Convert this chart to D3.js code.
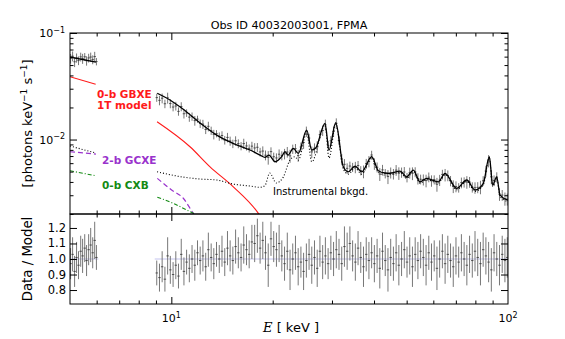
<!DOCTYPE html>
<meta charset="utf-8">
<body style="margin:0;background:#fff">
<svg width="565" height="339"></svg>
<script src="https://d3js.org/d3.v7.min.js"></script>
<script>

// ---- data ----
var titleText = "Obs ID 40032003001, FPMA";

// total model, low (5-6 keV) and high (9-100 keV) pieces
var modelLoE = [5.0, 5.45, 5.97];
var modelLoF = [0.0595, 0.0564, 0.0534];
var modelHiE = [9.08, 9.91, 10.85, 12.17, 13.64, 15.25, 17.13, 18.34, 18.97, 19.50, 20.32, 21.27, 21.76, 22.21, 23.03, 23.83, 25.24, 26.12, 26.84, 28.61, 29.40, 30.78, 32.42, 33.55, 35.13, 36.77, 39.37, 41.19, 43.12, 44.62, 47.78, 50.02, 52.33, 54.79, 57.36, 62.09, 65.01, 70.41, 75.41, 79.81, 84.47, 88.01, 90.08, 92.57, 94.68, 100];
var modelHiF = [0.0272, 0.0235, 0.0192, 0.0143, 0.0110, 0.00921, 0.00797, 0.00715, 0.00681, 0.00715, 0.00619, 0.00690, 0.00768, 0.00715, 0.00827, 0.00742, 0.01228, 0.00797, 0.00832, 0.01420, 0.00797, 0.01438, 0.00555, 0.00498, 0.00564, 0.00498, 0.00690, 0.00510, 0.00485, 0.00482, 0.00506, 0.00447, 0.00517, 0.00401, 0.00432, 0.00401, 0.00482, 0.00348, 0.00417, 0.00336, 0.00388, 0.00690, 0.00374, 0.00447, 0.00301, 0.00270];

// instrumental background
var bkgLoE = [5.0, 5.97];
var bkgLoF = [0.00869, 0.00747];
var bkgHiE = [9.07, 10.84, 12.17, 13.64, 15.25, 17.13, 18.34, 18.97, 19.6, 20.5, 21.5, 22.51, 23.30, 23.83, 25.24, 26.12, 28.61, 29.40, 30.78, 32.42, 33.55, 35.13, 36.77, 39.37, 41.19, 43.12, 44.62, 47.78, 50.02, 52.33, 54.79, 57.36, 62.09, 65.01, 70.41, 75.41, 79.81, 84.47, 88.01, 90.08, 92.57, 94.68, 100];
var bkgHiF = [0.00498, 0.00444, 0.00426, 0.00417, 0.00382, 0.00366, 0.00356, 0.00370, 0.00485, 0.00391, 0.00444, 0.00642, 0.00690, 0.00640, 0.01151, 0.00619, 0.01368, 0.00671, 0.01398, 0.00528, 0.00474, 0.00540, 0.00474, 0.00671, 0.00495, 0.00464, 0.00468, 0.00491, 0.00434, 0.00502, 0.00390, 0.00420, 0.00390, 0.00468, 0.00338, 0.00405, 0.00326, 0.00377, 0.00670, 0.00363, 0.00434, 0.00292, 0.00262];

// 0-b GBXE 1T model
var gbxLoE = [5.0, 5.96];
var gbxLoF = [0.0389, 0.0330];
var gbxHiE = [9.07, 11.36, 13.03, 15.28, 18.13, 18.6];
var gbxHiF = [0.01469, 0.00856, 0.00555, 0.00360, 0.00203, 0.0018];

// 2-b GCXE
var gcxLoE = [5.0, 5.97];
var gcxLoF = [0.00768, 0.00731];
var gcxHiE = [9.085, 10.02, 10.85, 11.62, 11.8];
var gcxHiF = [0.00432, 0.00336, 0.00281, 0.00203, 0.0019];

// 0-b CXB
var cxbLoE = [5.0, 5.97];
var cxbLoF = [0.00509, 0.00457];
var cxbHiE = [9.085, 10.13, 11.11, 11.75];
var cxbHiF = [0.00287, 0.00252, 0.00218, 0.0020];

// data bins: energy, data/model ratio, ratio error
var binLoE = [5.02, 5.09, 5.16, 5.23, 5.30, 5.38, 5.45, 5.53, 5.60, 5.68, 5.76, 5.84, 5.92, 5.99];
var ratioLo = [0.97, 1.03, 0.92, 1.01, 0.96, 1.05, 1.02, 1.07, 0.99, 1.06, 1.09, 1.04, 1.12, 1.01];
var errLo = [0.10, 0.11, 0.10, 0.10, 0.09, 0.10, 0.11, 0.09, 0.10, 0.10, 0.11, 0.10, 0.12, 0.08];

var binHiE = [9.05, 9.22, 9.39, 9.57, 9.75, 9.93, 10.12, 10.31, 10.50, 10.70, 10.90, 11.10, 11.31, 11.52, 11.74, 11.96, 12.18, 12.41, 12.65, 12.88,
  13.13, 13.37, 13.62, 13.88, 14.14, 14.41, 14.68, 14.95, 15.23, 15.52, 15.81, 16.11, 16.41, 16.72, 17.03, 17.35, 17.68, 18.01, 18.35, 18.69,
  19.04, 19.40, 19.77, 20.14, 20.52, 20.90, 21.29, 21.69, 22.10, 22.52, 22.94, 23.37, 23.81, 24.26, 24.71, 25.18, 25.65, 26.13, 26.62, 27.12,
  27.63, 28.15, 28.68, 29.22, 29.77, 30.33, 30.90, 31.48, 32.07, 32.67, 33.28, 33.91, 34.55, 35.20, 35.86, 36.53, 37.22, 37.92, 38.63, 39.35,
  40.09, 40.85, 41.61, 42.39, 43.19, 44.00, 44.83, 45.67, 46.53, 47.40, 48.29, 49.20, 50.12, 51.06, 52.02, 53.00, 54.00, 55.01, 56.04, 57.10,
  58.17, 59.26, 60.37, 61.51, 62.66, 63.84, 65.04, 66.26, 67.50, 68.77, 70.06, 71.37, 72.71, 74.08, 75.47, 76.89, 78.33, 79.80, 81.30, 82.83,
  84.38, 85.97, 87.58, 89.23, 90.90, 92.61, 94.35, 96.12, 97.92, 99.5];
var ratioHi = [0.91, 0.88, 0.95, 0.87, 1.02, 0.93, 0.90,
  0.96, 0.89, 1.03, 0.92, 0.98, 0.94,
  1.00, 0.96, 1.04, 0.99, 1.02, 0.95, 1.06, 1.01, 0.97, 1.03, 1.00,
  1.05, 0.98, 1.07, 1.02, 0.99, 1.08, 1.04, 1.01, 1.09, 1.06, 1.03, 1.11,
  1.10, 1.15, 1.07, 1.12, 1.04, 0.96, 1.13, 1.08,
  1.06, 1.10, 1.02, 0.97, 1.05, 0.93, 1.00, 1.04, 0.95, 0.98,
  0.92, 0.99, 1.03, 0.96, 1.01, 0.94, 1.05, 0.98, 1.02, 0.97, 1.04,
  1.00, 1.06, 1.03, 0.97, 1.08, 1.05, 1.10, 1.02, 0.98, 1.07, 1.01, 0.95, 1.03, 0.99, 1.04,
  0.97, 1.02, 0.94, 1.05, 0.99, 0.93, 1.01, 0.97, 1.04, 0.96, 1.00, 1.06, 0.98, 1.02, 0.95, 1.03, 0.99, 1.05,
  1.01, 0.96, 1.04, 0.98, 1.02, 0.94, 1.00, 1.05, 0.97, 1.03, 0.99, 0.95, 1.02, 0.98, 1.04, 1.00, 0.96,
  1.03, 0.99, 1.05, 1.01, 0.97, 1.06, 1.02, 0.98, 0.93, 1.04, 1.00, 0.96, 1.03, 0.99, 1.01];
var errHi = [0.08, 0.09, 0.10, 0.08, 0.12, 0.09, 0.08,
  0.09, 0.08, 0.10, 0.09, 0.08, 0.09,
  0.09, 0.10, 0.08, 0.09, 0.10, 0.09, 0.11, 0.09, 0.10, 0.08, 0.09,
  0.10, 0.09, 0.11, 0.10, 0.09, 0.11, 0.10, 0.09, 0.12, 0.10, 0.09, 0.11,
  0.12, 0.11, 0.10, 0.12, 0.11, 0.14, 0.11, 0.10,
  0.11, 0.12, 0.10, 0.11, 0.12, 0.13, 0.10, 0.11, 0.12, 0.10,
  0.12, 0.11, 0.10, 0.12, 0.11, 0.12, 0.10, 0.11, 0.12, 0.10, 0.11,
  0.11, 0.12, 0.10, 0.11, 0.13, 0.12, 0.11, 0.10, 0.12, 0.11, 0.10, 0.13, 0.11, 0.12, 0.10,
  0.12, 0.11, 0.13, 0.12, 0.10, 0.14, 0.12, 0.11, 0.12, 0.13, 0.11, 0.12, 0.10, 0.12, 0.13, 0.11, 0.12, 0.11,
  0.12, 0.13, 0.11, 0.12, 0.10, 0.14, 0.12, 0.11, 0.13, 0.12, 0.11, 0.13, 0.12, 0.10, 0.12, 0.11, 0.13,
  0.12, 0.11, 0.13, 0.12, 0.14, 0.11, 0.12, 0.13, 0.14, 0.12, 0.11, 0.13, 0.12, 0.14, 0.13];

// axis ticks
var xMajor = [10];
var xMinor = [6, 7, 8, 9, 20, 30, 40, 50, 60, 70, 80, 90];
var xLabels = [[10, "1"], [100, "2"]];
var yTopMajor = [0.01, 0.1];
var yTopMinor = [0.002, 0.003, 0.004, 0.005, 0.006, 0.007, 0.008, 0.009, 0.02, 0.03, 0.04, 0.05, 0.06, 0.07, 0.08, 0.09];
var yTopLabels = [[0.1, "\u22121"], [0.01, "\u22122"]];
var yBotTicks = [0.8, 0.9, 1.0, 1.1, 1.2];

// ---- layout ----
var L = 70, R = 508, T = 33, M = 214, B = 304;
var svg = d3.select("svg").style("font-family", "'DejaVu Sans', sans-serif");

var x = d3.scaleLog().domain([5, 100]).range([L, R]);
var yTop = d3.scaleLog().domain([0.002, 0.1]).range([M, T]);
var yBot = d3.scaleLinear().domain([0.71, 1.29]).range([B, M]);

var defs = svg.append("defs");
defs.append("clipPath").attr("id", "clipTop").append("rect")
    .attr("x", L).attr("y", T).attr("width", R - L).attr("height", M - T);
defs.append("clipPath").attr("id", "clipBot").append("rect")
    .attr("x", L).attr("y", M).attr("width", R - L).attr("height", B - M);

var topG = svg.append("g").attr("clip-path", "url(#clipTop)");
var botG = svg.append("g").attr("clip-path", "url(#clipBot)");

// log-log interpolation of the total model at a bin energy
function modelAt(e) {
  var Es = e < 7.5 ? modelLoE : modelHiE, Fs = e < 7.5 ? modelLoF : modelHiF;
  if (e <= Es[0]) return Fs[0];
  for (var i = 1; i < Es.length; i++) {
    if (e <= Es[i]) {
      var t = Math.log(e / Es[i - 1]) / Math.log(Es[i] / Es[i - 1]);
      return Math.exp(Math.log(Fs[i - 1]) + t * Math.log(Fs[i] / Fs[i - 1]));
    }
  }
  return Fs[Fs.length - 1];
}

// ---- data points ----
function drawBins(E, ratio, err) {
  // unity line only over the fitted range
  botG.append("line").attr("x1", x(d3.min(E)) - 2).attr("x2", x(d3.max(E)) + 2)
     .attr("y1", yBot(1)).attr("y2", yBot(1))
     .attr("stroke", "#b4b4ea").attr("stroke-width", 0.8);
  E.forEach(function(e, i) {
    var m = modelAt(e), px = x(e);
    // top panel
    topG.append("line").attr("x1", px).attr("x2", px)
       .attr("y1", yTop(m * (ratio[i] - err[i]))).attr("y2", yTop(m * (ratio[i] + err[i])))
       .attr("stroke", "#777").attr("stroke-width", 1);
    topG.append("line").attr("x1", px - 1.2).attr("x2", px + 1.2)
       .attr("y1", yTop(m * ratio[i])).attr("y2", yTop(m * ratio[i]))
       .attr("stroke", "#333").attr("stroke-width", 0.8);
    // ratio panel
    botG.append("line").attr("x1", px).attr("x2", px)
       .attr("y1", yBot(ratio[i] - err[i])).attr("y2", yBot(ratio[i] + err[i]))
       .attr("stroke", "#777").attr("stroke-width", 1);
    botG.append("line").attr("x1", px - 1.2).attr("x2", px + 1.2)
       .attr("y1", yBot(ratio[i])).attr("y2", yBot(ratio[i]))
       .attr("stroke", "#333").attr("stroke-width", 0.8);
  });
}

drawBins(binLoE, ratioLo, errLo);
drawBins(binHiE, ratioHi, errHi);

// ---- model curves ----
var line = d3.line().x(function(d) { return x(d[0]); }).y(function(d) { return yTop(d[1]); })
             .curve(d3.curveMonotoneX);

function curve(E, F, color, width, dash) {
  topG.append("path").datum(d3.zip(E, F)).attr("d", line)
     .attr("fill", "none").attr("stroke", color).attr("stroke-width", width)
     .attr("stroke-dasharray", dash);
}

curve(gbxLoE, gbxLoF, "#ff1a1a", 1.1, null);
curve(gbxHiE, gbxHiF, "#ff1a1a", 1.1, null);
curve(gcxLoE, gcxLoF, "#9932cc", 1.2, "5,3");
curve(gcxHiE, gcxHiF, "#9932cc", 1.2, "5,3");
curve(cxbLoE, cxbLoF, "#138a13", 1.1, "4,2,1,2");
curve(cxbHiE, cxbHiF, "#138a13", 1.1, "4,2,1,2");
curve(bkgLoE, bkgLoF, "#000", 1.1, "1,2");
curve(bkgHiE, bkgHiF, "#000", 1.1, "1,2");
curve(modelLoE, modelLoF, "#000", 1.3, null);
curve(modelHiE, modelHiF, "#000", 1.3, null);

// ---- frames and ticks ----
function tickSet(axisFn, scale, vals, size, transform) {
  var g = svg.append("g").attr("transform", transform)
     .call(axisFn(scale).tickValues(vals).tickSize(size).tickFormat(""));
  g.select(".domain").remove();
  g.selectAll("line").attr("stroke", "#000");
}

[[T, M], [M, B]].forEach(function(p) {
  svg.append("rect").attr("x", L).attr("y", p[0]).attr("width", R - L).attr("height", p[1] - p[0])
     .attr("fill", "none").attr("stroke", "#000").attr("stroke-width", 1);
  tickSet(d3.axisTop, x, xMajor, -7, "translate(0," + p[0] + ")");
  tickSet(d3.axisTop, x, xMinor, -3.5, "translate(0," + p[0] + ")");
  tickSet(d3.axisBottom, x, xMajor, -7, "translate(0," + p[1] + ")");
  tickSet(d3.axisBottom, x, xMinor, -3.5, "translate(0," + p[1] + ")");
});

tickSet(d3.axisLeft, yTop, yTopMajor, -7, "translate(" + L + ",0)");
tickSet(d3.axisLeft, yTop, yTopMinor, -3.5, "translate(" + L + ",0)");
tickSet(d3.axisRight, yTop, yTopMajor, -7, "translate(" + R + ",0)");
tickSet(d3.axisRight, yTop, yTopMinor, -3.5, "translate(" + R + ",0)");
tickSet(d3.axisLeft, yBot, yBotTicks, -7, "translate(" + L + ",0)");
tickSet(d3.axisRight, yBot, yBotTicks, -7, "translate(" + R + ",0)");

// ---- tick labels ----
svg.selectAll(".ytl").data(yTopLabels).enter().append("text")
   .attr("x", L - 5).attr("y", function(d) { return yTop(d[0]) + 4; })
   .attr("text-anchor", "end").attr("font-size", 11)
   .each(function(d) {
     var t = d3.select(this);
     t.append("tspan").text("10");
     t.append("tspan").attr("dy", -4.5).attr("font-size", 8).text(d[1]);
   });

svg.selectAll(".ybl").data(yBotTicks).enter().append("text")
   .attr("x", L - 4).attr("y", function(d) { return yBot(d) + 4; })
   .attr("text-anchor", "end").attr("font-size", 11.5)
   .text(function(d) { return d.toFixed(1); });

svg.selectAll(".xl").data(xLabels).enter().append("text")
   .attr("x", function(d) { return x(d[0]); }).attr("y", 322)
   .attr("text-anchor", "middle").attr("font-size", 11)
   .each(function(d) {
     var t = d3.select(this);
     t.append("tspan").text("10");
     t.append("tspan").attr("dy", -4.5).attr("font-size", 8).text(d[1]);
   });

// ---- titles ----
svg.append("text").attr("x", (L + R) / 2).attr("y", 29).attr("text-anchor", "middle")
   .attr("font-size", 11.2).text(titleText);

var yl = svg.append("text").attr("transform", "translate(32," + ((T + M) / 2) + ") rotate(-90)")
   .attr("text-anchor", "middle").attr("font-size", 13);
yl.append("tspan").text("[photons keV");
yl.append("tspan").attr("dy", -5).attr("font-size", 9).text("\u22121");
yl.append("tspan").attr("dy", 5).text(" s");
yl.append("tspan").attr("dy", -5).attr("font-size", 9).text("\u22121");
yl.append("tspan").attr("dy", 5).text("]");

svg.append("text").attr("transform", "translate(32," + ((M + B) / 2) + ") rotate(-90)")
   .attr("text-anchor", "middle").attr("font-size", 13.3).text("Data / Model");

var xl = svg.append("text").attr("x", 291).attr("y", 332).attr("text-anchor", "middle").attr("font-size", 13);
xl.append("tspan").attr("font-family", "'DejaVu Serif', serif").attr("font-style", "italic").text("E");
xl.append("tspan").text(" [ keV ]");

// ---- component labels ----
var lab = svg.append("g").attr("font-weight", "bold").attr("font-size", 10.5);
lab.append("text").attr("x", 97).attr("y", 98).attr("fill", "#ff1a1a").text("0-b GBXE");
lab.append("text").attr("x", 97).attr("y", 108.5).attr("fill", "#ff1a1a").text("1T model");
lab.append("text").attr("x", 102).attr("y", 164).attr("fill", "#9932cc").text("2-b GCXE");
lab.append("text").attr("x", 102).attr("y", 188.5).attr("fill", "#138a13").text("0-b CXB");

svg.append("text").attr("x", 273).attr("y", 195).attr("font-size", 10).text("Instrumental bkgd.");

</script>
</body>
